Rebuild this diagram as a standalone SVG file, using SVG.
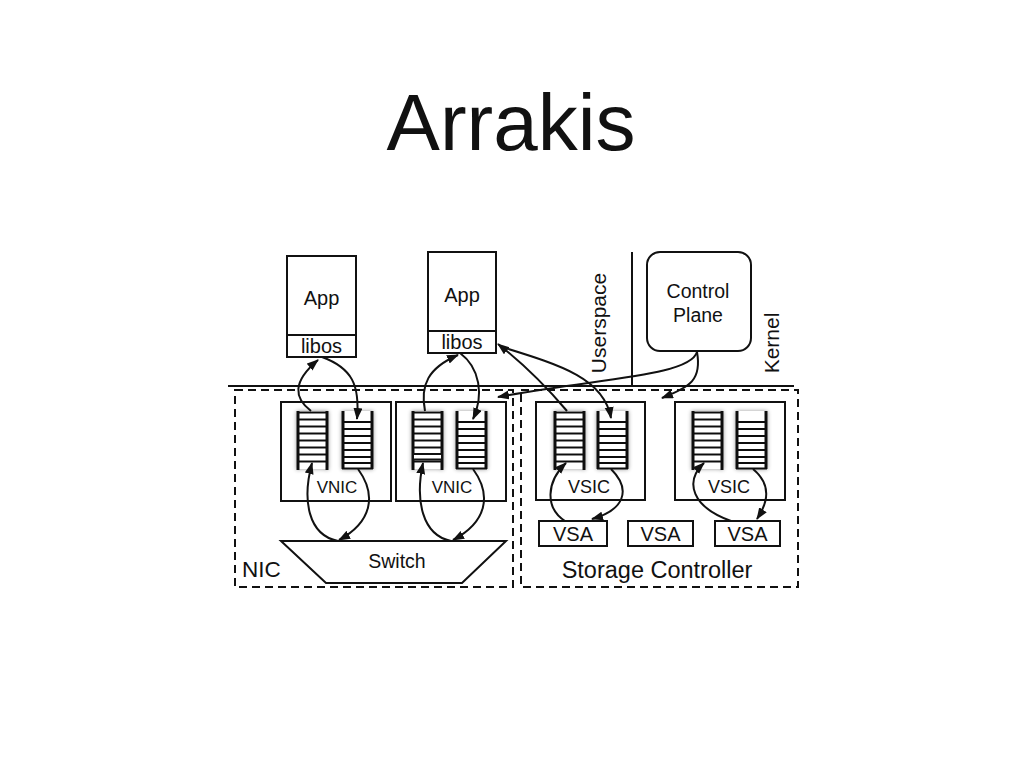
<svg xmlns="http://www.w3.org/2000/svg" xmlns:xlink="http://www.w3.org/1999/xlink" width="1024" height="768" viewBox="0 0 1024 768">
<style>
text{font-family:"Liberation Sans",Arial,sans-serif;fill:#111}
.box{fill:#fff;stroke:#111;stroke-width:2}
.dash{fill:none;stroke:#111;stroke-width:2;stroke-dasharray:8 5}
.ln{fill:none;stroke:#111;stroke-width:2}
.arr{fill:none;stroke:#111;stroke-width:2;marker-end:url(#ah)}
.post{stroke:#111;stroke-width:3}
.rung{stroke:#111;stroke-width:2}
.c{text-anchor:middle}
</style>
<defs>
<marker id="ah" markerUnits="userSpaceOnUse" markerWidth="14" markerHeight="10" refX="11" refY="4.5" orient="auto">
<path d="M0,0 L12,4.5 L0,9 Z" fill="#111"/>
</marker>
<filter id="sh" x="-30%" y="-20%" width="160%" height="140%">
<feGaussianBlur in="SourceAlpha" stdDeviation="2"/>
<feComponentTransfer><feFuncA type="linear" slope="0.4"/></feComponentTransfer>
<feMerge><feMergeNode/><feMergeNode in="SourceGraphic"/></feMerge>
</filter>
<g id="qa" filter="url(#sh)">
<rect x="0" y="0" width="29" height="58" fill="#fff"/>
<line class="rung" x1="0" y1="1.5" x2="29" y2="1.5"/>
<line class="rung" x1="0" y1="8.5" x2="29" y2="8.5"/>
<line class="rung" x1="0" y1="15.5" x2="29" y2="15.5"/>
<line class="rung" x1="0" y1="22.5" x2="29" y2="22.5"/>
<line class="rung" x1="0" y1="29.5" x2="29" y2="29.5"/>
<line class="rung" x1="0" y1="36.5" x2="29" y2="36.5"/>
<line class="rung" x1="0" y1="43.5" x2="29" y2="43.5"/>
<line class="rung" x1="0" y1="50.5" x2="29" y2="50.5"/>
<line class="post" x1="0" y1="0" x2="0" y2="59"/>
<line class="post" x1="29" y1="0" x2="29" y2="59"/>
</g>
<g id="qb" filter="url(#sh)">
<rect x="0" y="0" width="29" height="58" fill="#fff"/>
<line class="rung" x1="0" y1="11" x2="29" y2="11"/>
<line class="rung" x1="0" y1="18" x2="29" y2="18"/>
<line class="rung" x1="0" y1="25" x2="29" y2="25"/>
<line class="rung" x1="0" y1="32" x2="29" y2="32"/>
<line class="rung" x1="0" y1="39" x2="29" y2="39"/>
<line class="rung" x1="0" y1="46" x2="29" y2="46"/>
<line class="rung" x1="0" y1="52" x2="29" y2="52"/>
<rect x="0" y="52" width="29" height="5.5" fill="#fff" stroke="#111" stroke-width="2"/>
<line class="post" x1="0" y1="0" x2="0" y2="58"/>
<line class="post" x1="29" y1="0" x2="29" y2="58"/>
</g>
</defs>
<rect width="1024" height="768" fill="#fff"/>
<text class="c" x="511" y="150" font-size="80">Arrakis</text>

<g id="boundary">
<line class="ln" x1="228" y1="386" x2="794" y2="386"/>
<line class="ln" x1="632" y1="252" x2="632" y2="386"/>
<text font-size="21" transform="translate(606,323) rotate(-90)" class="c">Userspace</text>
<text font-size="21" transform="translate(779,343) rotate(-90)" class="c">Kernel</text>
</g>

<g id="app1">
<rect class="box" x="287" y="256" width="69" height="101"/>
<line class="ln" x1="287" y1="335" x2="356" y2="335"/>
<text class="c" x="321.5" y="305" font-size="20">App</text>
<text class="c" x="321.5" y="353" font-size="20">libos</text>
</g>
<g id="app2">
<rect class="box" x="428" y="252" width="68" height="101"/>
<line class="ln" x1="428" y1="331" x2="496" y2="331"/>
<text class="c" x="462" y="302" font-size="20">App</text>
<text class="c" x="462" y="349" font-size="20">libos</text>
</g>
<g id="control-plane">
<rect class="box" x="647" y="252" width="104" height="99" rx="13"/>
<text class="c" x="698" y="298" font-size="19.5">Control</text>
<text class="c" x="698" y="322" font-size="19.5">Plane</text>
</g>

<g id="nic">
<rect class="dash" x="235" y="390" width="278" height="197"/>
<text x="242" y="577" font-size="22.5">NIC</text>
</g>
<g id="storage-controller">
<rect class="dash" x="521" y="390" width="277" height="197"/>
<text class="c" x="657" y="578" font-size="23.5">Storage Controller</text>
</g>

<g id="vnic1">
<rect class="box" x="281" y="402" width="110" height="99"/>
<use xlink:href="#qa" x="298" y="411"/>
<use xlink:href="#qb" x="343" y="411"/>
<text class="c" x="337" y="493" font-size="17">VNIC</text>
</g>
<g id="vnic2">
<rect class="box" x="396" y="402" width="110" height="99"/>
<use xlink:href="#qa" x="413" y="411"/>
<rect x="413" y="454" width="29" height="5.5" fill="#fff" stroke="#111" stroke-width="2"/>
<use xlink:href="#qb" x="457" y="411"/>
<text class="c" x="452" y="493" font-size="17">VNIC</text>
</g>
<g id="switch">
<polygon class="box" points="281,541 506,541 462,583 326,583"/>
<text class="c" x="397" y="568" font-size="19.5">Switch</text>
</g>

<g id="vsic1">
<rect class="box" x="536" y="402" width="109" height="98"/>
<use xlink:href="#qa" x="555" y="411"/>
<use xlink:href="#qb" x="598" y="411"/>
<text class="c" x="589" y="493" font-size="18">VSIC</text>
</g>
<g id="vsic2">
<rect class="box" x="675" y="402" width="110" height="98"/>
<use xlink:href="#qa" x="693" y="411"/>
<use xlink:href="#qb" x="737" y="411"/>
<text class="c" x="729" y="493" font-size="18">VSIC</text>
</g>
<g id="vsa1">
<rect class="box" x="539" y="521" width="68" height="25"/>
<text class="c" x="573" y="541" font-size="20">VSA</text>
</g>
<g id="vsa2">
<rect class="box" x="628" y="521" width="65" height="25"/>
<text class="c" x="660.5" y="541" font-size="20">VSA</text>
</g>
<g id="vsa3">
<rect class="box" x="715" y="521" width="65" height="25"/>
<text class="c" x="747.5" y="541" font-size="20">VSA</text>
</g>

<g id="connectors">
<path class="arr" d="M311,411 C294,398 292,382 318,360"/>
<path class="arr" d="M322,357 C352,368 360,385 357,419"/>
<path class="arr" d="M425,411 C420,385 428,368 458,355"/>
<path class="arr" d="M460,353 C480,368 484,395 473,419"/>
<path class="arr" d="M567,411 C545,385 525,365 498,344"/>
<path class="arr" d="M502,347 C560,365 604,378 611,418"/>
<path class="arr" d="M697,352 C690,376 600,378 498,397"/>
<path class="arr" d="M697,352 C702,380 690,387 662,398"/>
<path class="arr" d="M338,541 C308,535 302,500 312,463"/>
<path class="arr" d="M358,469 C377,495 372,522 339,540"/>
<path class="arr" d="M451,541 C422,535 415,500 423,463"/>
<path class="arr" d="M473,469 C492,495 487,522 453,540"/>
<path class="arr" d="M565,521 C545,508 546,482 566,463"/>
<path class="arr" d="M611,469 C632,490 624,510 592,519"/>
<path class="arr" d="M731,521 C692,507 684,482 704,463"/>
<path class="arr" d="M753,469 C772,485 768,502 757,519"/>
</g>
</svg>
